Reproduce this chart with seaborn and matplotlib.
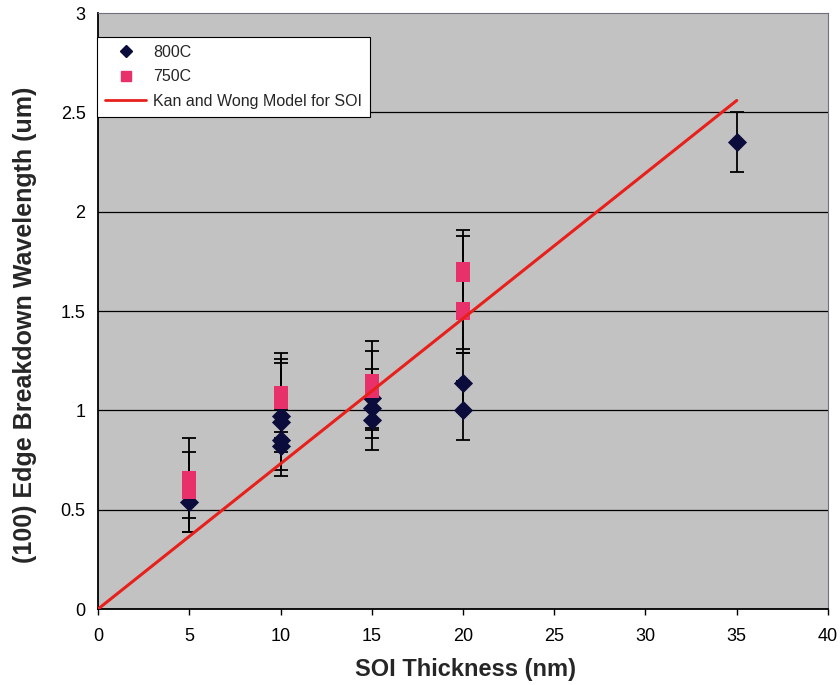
import matplotlib
matplotlib.use("Agg")
import matplotlib.pyplot as plt
import seaborn as sns
import pandas as pd
from matplotlib.lines import Line2D

# Measured edge breakdown wavelength vs SOI thickness
x_800 = [5, 10, 10, 10, 10, 15, 15, 15, 20, 20, 35]
y_800 = [0.54, 0.97, 0.94, 0.85, 0.82, 1.06, 1.01, 0.95, 1.14, 1.00, 2.35]
err_800 = [0.15, 0.15, 0.15, 0.15, 0.15, 0.15, 0.15, 0.15, 0.15, 0.15, 0.15]

x_750 = [5, 5, 10, 10, 10, 15, 15, 20, 20, 20, 20]
y_750 = [0.66, 0.59, 1.09, 1.06, 1.04, 1.15, 1.10, 1.71, 1.68, 1.51, 1.49]
err_750 = [0.20, 0.20, 0.20, 0.20, 0.20, 0.20, 0.20, 0.20, 0.20, 0.20, 0.20]

# Kan and Wong model (linear in SOI thickness)
x_model = [0, 35]
y_model = [0, 2.56]

x_ticks = [0, 5, 10, 15, 20, 25, 30, 35, 40]
y_ticks = [0, 0.5, 1, 1.5, 2, 2.5, 3]
y_tick_labels = ["0", "0.5", "1", "1.5", "2", "2.5", "3"]

sns.set_theme(style="white")
plt.rcParams["font.family"] = ["Liberation Sans", "DejaVu Sans"]

navy = "#0b0c3c"
pink = "#e8306a"
red = "#e8201c"

fig = plt.figure(figsize=(8.4, 6.85), dpi=100)
ax = fig.add_axes([0.1167, 0.1109, 0.869, 0.870])
ax.set_facecolor("#c2c2c2")

df800 = pd.DataFrame({"x": x_800, "y": y_800, "e": err_800})
df750 = pd.DataFrame({"x": x_750, "y": y_750, "e": err_750})
dfm = pd.DataFrame({"x": x_model, "y": y_model})

# horizontal gridlines
for yv in y_ticks[1:-1]:
    ax.axhline(yv, color="black", lw=0.9, zorder=1)

# error bars
ax.errorbar(df800["x"], df800["y"], yerr=df800["e"], fmt="none",
            ecolor="black", elinewidth=1.3, capsize=5, capthick=1.3, zorder=2)
ax.errorbar(df750["x"], df750["y"], yerr=df750["e"], fmt="none",
            ecolor="black", elinewidth=1.3, capsize=5, capthick=1.3, zorder=2)

sns.scatterplot(data=df800, x="x", y="y", marker="D", s=95, color=navy,
                edgecolor=navy, linewidth=0, ax=ax, zorder=3, legend=False)
sns.scatterplot(data=df750, x="x", y="y", marker="s", s=90, color=pink,
                edgecolor=pink, linewidth=0, ax=ax, zorder=4, legend=False)
sns.lineplot(data=dfm, x="x", y="y", color=red, lw=2.2, ax=ax, zorder=5,
             legend=False)

ax.set_xlim(0, 40)
ax.set_ylim(0, 3)
ax.set_xticks(x_ticks)
ax.set_xticklabels([str(v) for v in x_ticks], fontsize=13)
ax.set_yticks(y_ticks)
ax.set_yticklabels(y_tick_labels, fontsize=13)
ax.tick_params(axis="x", direction="out", length=4, width=1, color="black",
               pad=10, labelcolor="black", bottom=True)
ax.tick_params(axis="y", length=0, pad=9, labelcolor="black")

for side in ["left", "bottom"]:
    ax.spines[side].set_color("black")
    ax.spines[side].set_linewidth(1.3)
for side in ["top", "right"]:
    ax.spines[side].set_color("#707080")
    ax.spines[side].set_linewidth(0.8)

ax.set_xlabel("SOI Thickness (nm)", fontsize=17, fontweight="bold",
              va="center", ha="center")
ax.set_ylabel("(100) Edge Breakdown Wavelength (um)", fontsize=18,
              fontweight="bold", va="center", ha="center")
ax.xaxis.set_label_coords(0.503, -0.102)
ax.yaxis.set_label_coords(-0.1, 0.477)

handles = [
    Line2D([], [], marker="D", color=navy, linestyle="none", markersize=6),
    Line2D([], [], marker="s", color=pink, linestyle="none", markersize=7),
    Line2D([], [], color=red, lw=2),
]
labels = ["800C", "750C", "Kan and Wong Model for SOI"]
leg = ax.legend(handles, labels, loc="upper left",
                bbox_to_anchor=(-0.0015, 0.96), fontsize=11.5, frameon=True,
                fancybox=False, framealpha=1, edgecolor="black",
                handlelength=2.6, labelspacing=0.6, borderpad=0.5,
                handletextpad=0.4, borderaxespad=0)
leg.get_frame().set_linewidth(0.8)

fig.savefig("out.png", dpi=100, facecolor="white")
